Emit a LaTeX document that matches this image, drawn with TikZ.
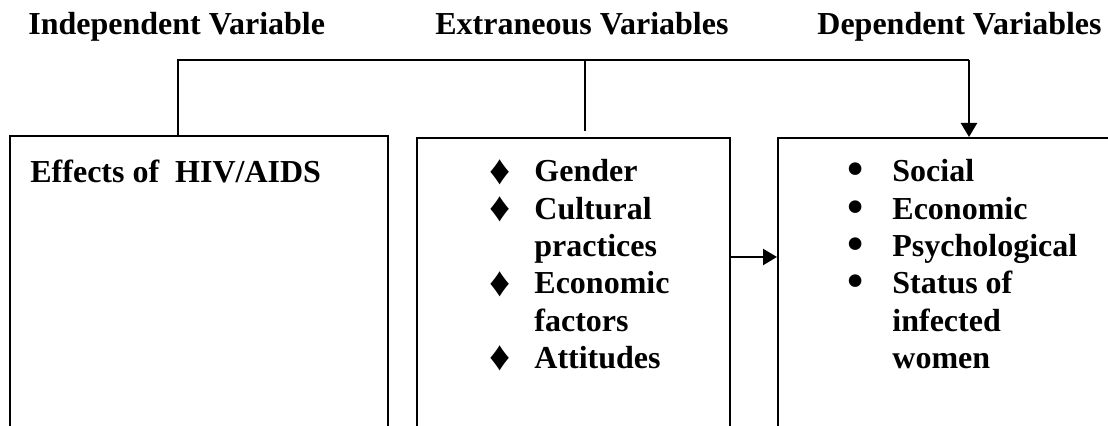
\documentclass[tikz,border=0pt]{standalone}
\usepackage{fontspec}
\setmainfont{Liberation Serif}
\usetikzlibrary{positioning, arrows.meta, calc}
\tikzset{
  varfont/.style={font=\fontsize{16}{18.65}\selectfont\bfseries},
  vartitle/.style={varfont, anchor=base west, inner sep=0pt},
  varbox/.style={
    draw=black,
    line width=1.2pt,
    anchor=north west,
    inner sep=0pt,
  },
  vartext/.style={varfont, anchor=base west, inner sep=0pt, align=left},
  varbus/.style={line width=1.2pt, draw=black},
  vararr/.style={-{Triangle[length=7pt, width=8pt]}, line width=1.2pt, draw=black},
}
\newcommand{\diamondItem}{\makebox[22.5pt][l]{\smash{\raisebox{-0.15ex}{\scalebox{1.3}{\char"2666}}}}}
\newcommand{\dotItem}{\makebox[22.5pt][l]{\smash{\raisebox{-0.2ex}{\scalebox{1.45}{\char"2022}}}}}

\begin{document}
\begin{tikzpicture}[x=0.5pt, y=-0.5pt]
  \useasboundingbox (0,0) rectangle (1108,426);
  \clip (0,0) rectangle (1108,426);

  % --- headings ---
  \node[vartitle] (indepTitle) at (28,35) {Independent Variable};
  \node[vartitle] (extraTitle) at (435,35) {Extraneous Variables};
  \node[vartitle] (depTitle) at (817,35) {Dependent Variables};

  % --- boxes (run off the bottom edge) ---
  \node[varbox, minimum width=189pt, minimum height=180pt] (indepBox) at (9,135) {};
  \node[varbox, minimum width=156.5pt, minimum height=180pt] (extraBox) at (416,137) {};
  \node[varbox, minimum width=176.5pt, minimum height=180pt] (depBox) at (777,137) {};

  \node[vartext] (indepText) at (30,183) {Effects of \ HIV/AIDS};
  \node[vartext] (extraList) at (489,182) {%
    \begin{tabular}[t]{@{}l@{}l@{}}
      \diamondItem & Gender \\
      \diamondItem & Cultural \\
                   & practices \\
      \diamondItem & Economic \\
                   & factors \\
      \diamondItem & Attitudes \\
    \end{tabular}};
  \node[vartext] (depList) at (847,182) {%
    \begin{tabular}[t]{@{}l@{}l@{}}
      \dotItem & Social \\
      \dotItem & Economic \\
      \dotItem & Psychological \\
      \dotItem & Status of \\
               & infected \\
               & women \\
    \end{tabular}};

  % --- arrows ---
  \coordinate (busL) at (178,60);
  \coordinate (busM) at (585,60);
  \coordinate (busR) at (969,60);
  \coordinate (midEnd) at (585,131);
  \coordinate (linkY) at (0,257);

  \draw[varbus] (indepBox.north -| busL) -- (busL) -- (busR);
  \draw[varbus] (busM) -- (midEnd);
  \draw[vararr] (busR) -- (depBox.north -| busR);
  \draw[vararr] (extraBox.east |- linkY) -- (depBox.west |- linkY);
\end{tikzpicture}
\end{document}
